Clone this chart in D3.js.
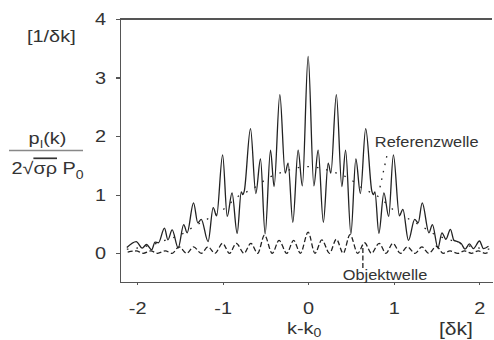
<!DOCTYPE html>
<html lang="de">
<head>
<meta charset="UTF-8">
<title>Referenzwelle / Objektwelle</title>
<script src="https://cdn.jsdelivr.net/npm/d3@7/dist/d3.min.js"></script>
<style>
    body { margin: 0; background: #fff; }
    svg text { font-family: "Liberation Sans", Arial, sans-serif; fill: #333; }
    .axis path,
    .axis line { fill: none; stroke: #555; stroke-width: 1.2; shape-rendering: crispEdges; }
    .axis text { font-size: 17px; }
    .curve { fill: none; stroke: #222; stroke-width: 1.3; }
</style>
</head>
<body>
<script>
var width = 494, height = 340;
var svg = d3.select("body").append("svg")
    .attr("width", width)
    .attr("height", height);

// tick values
var xTicks = [-2, -1, 0, 1, 2];
var yTicks = [0, 1, 2, 3, 4];

var summe = [
    [-2.12, 0.10], [-2.01, 0.20], [-1.94, 0.09], [-1.89, 0.15], [-1.83, 0.06], [-1.79, 0.19],
    [-1.75, 0.18], [-1.68, 0.43], [-1.64, 0.23], [-1.59, 0.40], [-1.52, 0.09], [-1.455, 0.49],
    [-1.415, 0.35], [-1.34, 0.86], [-1.29, 0.52], [-1.25, 0.58], [-1.17, 0.20], [-1.11, 0.78],
    [-1.07, 0.64], [-1.00, 1.68], [-0.946, 0.63], [-0.89, 1.03], [-0.83, 0.34], [-0.782, 1.05],
    [-0.764, 1.00], [-0.747, 1.06], [-0.674, 2.13], [-0.612, 1.02], [-0.557, 1.61], [-0.503, 0.33],
    [-0.44, 1.76], [-0.398, 1.14], [-0.331, 2.71], [-0.269, 1.37], [-0.234, 1.54], [-0.179, 0.53],
    [-0.117, 1.76], [-0.068, 1.15], [0.00, 3.36], [0.067, 1.15], [0.117, 1.76], [0.178, 0.53],
    [0.234, 1.54], [0.266, 1.37], [0.33, 2.71], [0.394, 1.14], [0.438, 1.76], [0.50, 0.33],
    [0.558, 1.61], [0.611, 1.02], [0.673, 2.13], [0.745, 1.06], [0.763, 1.00], [0.781, 1.05],
    [0.827, 0.34], [0.886, 1.03], [0.942, 0.63], [0.997, 1.68], [1.067, 0.64], [1.108, 0.75],
    [1.173, 0.22], [1.246, 0.58], [1.287, 0.52], [1.334, 0.86], [1.413, 0.35], [1.453, 0.49],
    [1.518, 0.09], [1.565, 0.35], [1.611, 0.24], [1.664, 0.41], [1.705, 0.22], [1.746, 0.20],
    [1.793, 0.16], [1.834, 0.07], [1.886, 0.16], [1.933, 0.08], [2.004, 0.21], [2.05, 0.08],
    [2.109, 0.12]
];

// Objektwelle (dashed)
var objektwelle = [
    [-2.11, 0.02], [-2.01, 0.04], [-1.93, 0.00], [-1.84, 0.04], [-1.76, 0.00], [-1.67, 0.04],
    [-1.59, 0.00], [-1.51, 0.11], [-1.42, 0.00], [-1.34, 0.11], [-1.25, 0.00], [-1.17, 0.11],
    [-1.09, 0.00], [-1.00, 0.17], [-0.92, 0.00], [-0.84, 0.17], [-0.75, 0.00], [-0.67, 0.17],
    [-0.59, 0.00], [-0.51, 0.31], [-0.42, 0.00], [-0.34, 0.22], [-0.25, 0.00], [-0.17, 0.22],
    [-0.09, 0.00], [0.00, 0.36], [0.08, 0.00], [0.16, 0.23], [0.25, 0.00], [0.33, 0.24],
    [0.41, 0.00], [0.49, 0.32], [0.58, 0.00], [0.66, 0.18], [0.74, 0.00], [0.83, 0.17],
    [0.91, 0.00], [0.99, 0.17], [1.08, 0.00], [1.16, 0.11], [1.25, 0.00], [1.33, 0.11],
    [1.41, 0.00], [1.50, 0.12], [1.58, 0.00], [1.66, 0.04], [1.75, 0.00], [1.83, 0.04],
    [1.91, 0.00], [1.99, 0.04], [2.07, 0.00], [2.11, 0.02]
];

// Referenzwelle (dotted)
var referenzwelle = [
    [-2.12, 0.07], [-2.00, 0.09], [-1.84, 0.14], [-1.66, 0.23], [-1.50, 0.31], [-1.33, 0.46],
    [-1.16, 0.60], [-1.00, 0.74], [-0.82, 0.97], [-0.65, 1.10], [-0.45, 1.30], [-0.31, 1.38],
    [-0.16, 1.45], [0.00, 1.48], [0.16, 1.45], [0.31, 1.38], [0.45, 1.30], [0.65, 1.10],
    [0.82, 0.97], [1.00, 0.74], [1.16, 0.60], [1.33, 0.46], [1.50, 0.31], [1.66, 0.23],
    [1.84, 0.14], [2.00, 0.09], [2.12, 0.07]
];

// annotation leaders
var refLeader = [[0.92, 1.66], [0.83, 1.06]];
var objLeader = [[0.64, 0.09], [0.64, -0.25]];

var sx = 1.17; // glyphs in the picture are a bit wider than Arial

var x = d3.scaleLinear().domain([-2.2, 2.15]).range([120, 492]);
var y = d3.scaleLinear().domain([-0.49, 4]).range([282, 19]);

// top frame line
svg.append("line")
    .attr("x1", x.range()[0]).attr("x2", x.range()[1])
    .attr("y1", y(4)).attr("y2", y(4))
    .attr("stroke", "#555").attr("stroke-width", 1.2)
    .attr("shape-rendering", "crispEdges");

var gx = svg.append("g")
    .attr("class", "axis")
    .attr("transform", "translate(0," + y.range()[0] + ")")
    .call(d3.axisBottom(x).tickValues(xTicks).tickSize(3).tickPadding(17)
        .tickSizeOuter(0).tickFormat(function (d) { return String(d); }));
gx.selectAll("text").attr("transform", "scale(" + sx + ",1)");

var gy = svg.append("g")
    .attr("class", "axis")
    .attr("transform", "translate(" + x.range()[0] + ",0)")
    .call(d3.axisLeft(y).tickValues(yTicks).tickSize(4).tickPadding(8)
        .tickSizeOuter(0).tickFormat(function (d) { return String(d); }));
gy.selectAll("text").attr("transform", "scale(" + sx + ",1)");

var line = d3.line()
    .x(function (d) { return x(d[0]); })
    .y(function (d) { return y(d[1]); })
    .curve(d3.curveMonotoneX);

svg.append("path").datum(referenzwelle)
    .attr("class", "curve")
    .attr("stroke-width", 1.6)
    .attr("stroke-dasharray", "1.6,8")
    .attr("d", line);

svg.append("path").datum(objektwelle)
    .attr("class", "curve")
    .attr("stroke-width", 1.2)
    .attr("stroke-dasharray", "5,2.5")
    .attr("d", line);

svg.append("path").datum(summe)
    .attr("class", "curve")
    .attr("d", line);

var straight = d3.line()
    .x(function (d) { return x(d[0]); })
    .y(function (d) { return y(d[1]); });

svg.append("path").datum(refLeader)
    .attr("class", "curve")
    .attr("stroke-width", 1.6)
    .attr("stroke-dasharray", "1.6,6")
    .attr("d", straight);

svg.append("path").datum(objLeader)
    .attr("class", "curve")
    .attr("stroke-width", 1)
    .attr("stroke-dasharray", "5,2.5")
    .attr("d", straight);

// labels
function label(px, py, size, anchor) {
    return svg.append("text")
        .attr("transform", "translate(" + px + "," + py + ") scale(" + sx + ",1)")
        .attr("text-anchor", anchor || "start")
        .style("font-size", size + "px");
}

label(x(0.78), y(1.82), 14).text("Referenzwelle");
label(x(0.405), y(-0.45), 14).text("Objektwelle");

label(27, 42, 17).text("[1/δk]");

var num = label(47.5, 144, 17, "middle");
num.append("tspan").text("p");
num.append("tspan").attr("dy", 4).style("font-size", "11px").text("I");
num.append("tspan").attr("dy", -4).text("(k)");

svg.append("line")
    .attr("x1", 9).attr("x2", 83)
    .attr("y1", 150.5).attr("y2", 150.5)
    .attr("stroke", "#888").attr("stroke-width", 1.5);

var den = label(47.5, 174, 17, "middle");
den.append("tspan").text("2√");
den.append("tspan").style("text-decoration", "overline").text("σρ");
den.append("tspan").text(" P");
den.append("tspan").attr("dy", 5).style("font-size", "12px").text("0");

var kl = label(287, 334, 17);
kl.append("tspan").text("k-k");
kl.append("tspan").attr("dy", 3).style("font-size", "12px").text("0");

label(439, 335, 18).text("[δk]");
</script>
</body>
</html>
